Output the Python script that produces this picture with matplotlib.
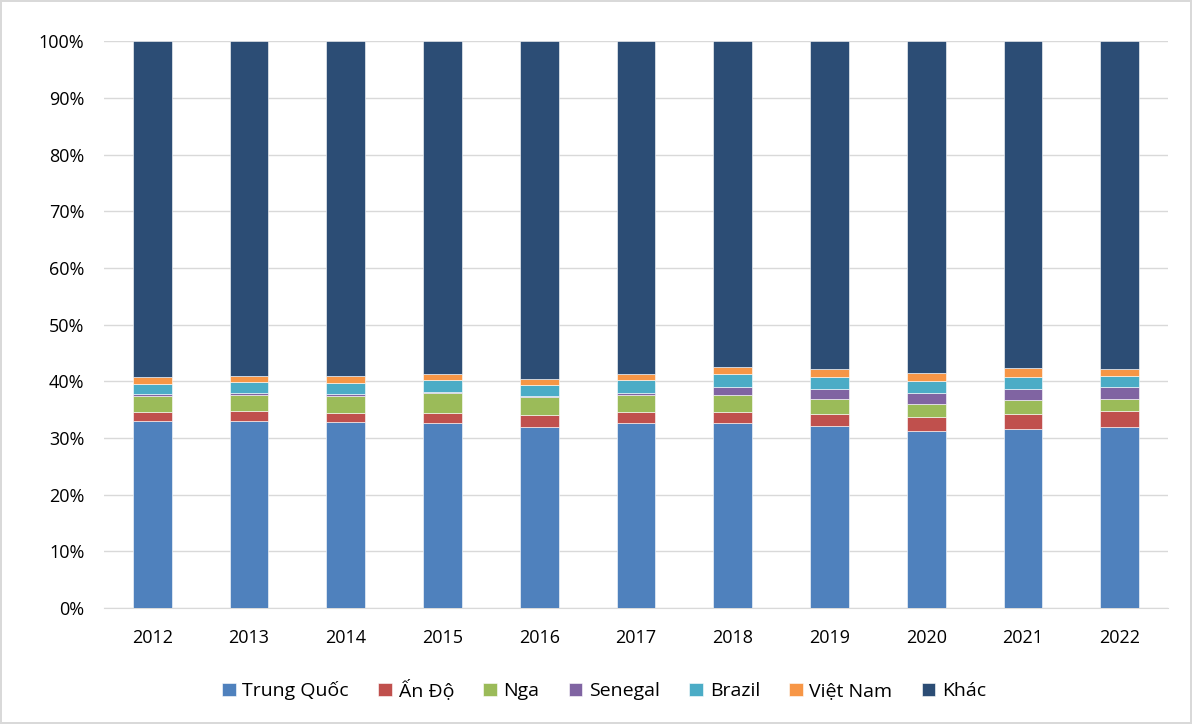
import numpy as np
import matplotlib.pyplot as plt

years = ['2012', '2013', '2014', '2015', '2016', '2017', '2018', '2019', '2020', '2021', '2022']
trung_quoc = [33.1, 33.1, 32.9, 32.6, 32.0, 32.7, 32.6, 32.2, 31.3, 31.6, 32.0]
an_do = [1.5, 1.7, 1.5, 1.9, 2.0, 1.9, 2.0, 2.1, 2.4, 2.7, 2.8]
nga = [2.8, 2.8, 3.0, 3.4, 3.2, 3.0, 3.0, 2.6, 2.3, 2.4, 2.1]
senegal = [0.3, 0.3, 0.4, 0.3, 0.3, 0.4, 1.4, 1.8, 1.9, 1.9, 2.1]
brazil = [1.9, 2.0, 1.9, 2.0, 1.9, 2.2, 2.3, 2.1, 2.1, 2.1, 2.0]
viet_nam = [1.2, 1.1, 1.2, 1.1, 1.1, 1.1, 1.2, 1.4, 1.5, 1.6, 1.2]
khac = [59.2, 59.0, 59.1, 58.7, 59.5, 58.7, 57.5, 57.8, 58.5, 57.7, 57.8]

names = ['Trung Quốc', 'Ấn Độ', 'Nga', 'Senegal', 'Brazil', 'Việt Nam', 'Khác']
series = [trung_quoc, an_do, nga, senegal, brazil, viet_nam, khac]
colors = ['#4F81BD', '#C0504D', '#9BBB59', '#8064A2', '#4BACC6', '#F79646', '#2C4D75']

plt.rcParams['font.family'] = ['Open Sans', 'DejaVu Sans']

fig = plt.figure(figsize=(11.92, 7.24), dpi=100)
fig.patch.set_edgecolor('#D9D9D9')
fig.patch.set_linewidth(1.5)
ax = fig.add_axes([0.0872, 0.160, 0.8928, 0.783])

x = np.arange(len(years))
bottom = np.zeros(len(years))
for name, vals, c in zip(names, series, colors):
    vals = np.array(vals)
    ax.bar(x, vals, 0.4, bottom=bottom, color=c, label=name,
           edgecolor='white', linewidth=0.4, zorder=3)
    bottom += vals

ax.set_ylim(0, 100)
ax.set_xlim(-0.5, len(years) - 0.5)
ax.set_yticks(np.arange(0, 101, 10))
ax.set_yticklabels([f'{v}%' for v in range(0, 101, 10)])
ax.set_xticks(x)
ax.set_xticklabels(years)
ax.grid(axis='y', color='#D9D9D9', linewidth=1, zorder=0)
for s in ['top', 'right', 'left']:
    ax.spines[s].set_visible(False)
ax.spines['bottom'].set_color('#D9D9D9')
ax.tick_params(length=0, labelsize=13, colors='#000000')
ax.tick_params(axis='x', pad=15)
ax.tick_params(axis='y', pad=14)

ax.legend(loc='upper center', bbox_to_anchor=(0.47, -0.095), ncol=7, frameon=False,
          fontsize=14, handlelength=0.7, handleheight=0.7, handletextpad=0.35,
          columnspacing=1.5)

fig.savefig('out.png', dpi=100, edgecolor=fig.get_edgecolor())
